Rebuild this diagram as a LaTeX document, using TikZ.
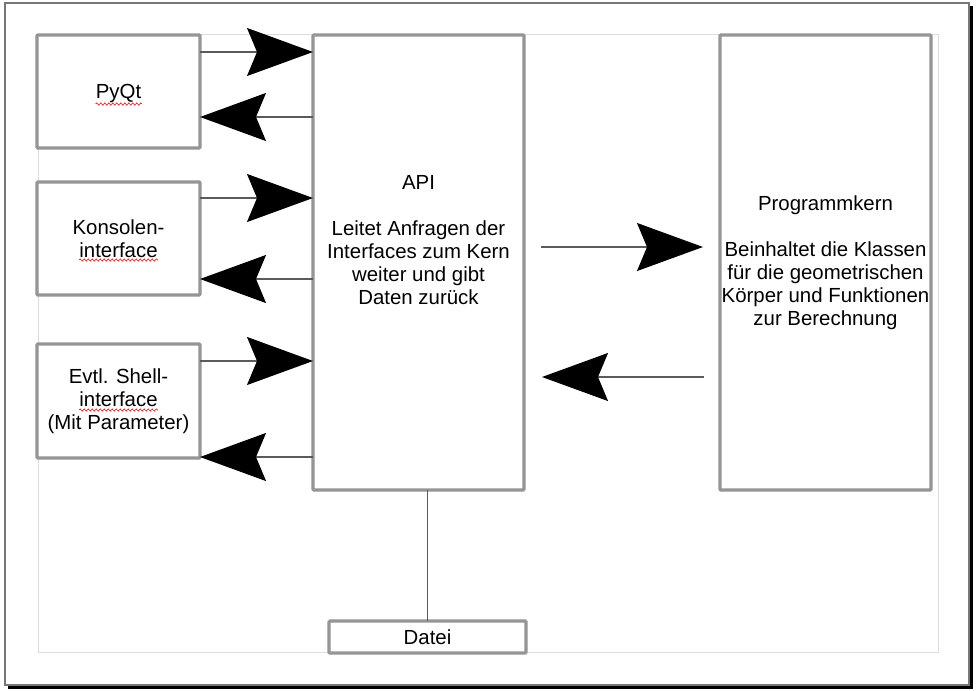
\documentclass[tikz,border=0pt]{standalone}
\usepackage{fontspec}
\setmainfont{Liberation Sans}
\usetikzlibrary{arrows.meta, calc, decorations.pathmorphing}

\definecolor{boxgray}{HTML}{959595}
\definecolor{linegray}{HTML}{5A5A5A}
\definecolor{pagegray}{HTML}{DCDCDC}
\definecolor{framegray}{HTML}{777777}

\begin{document}
\begin{tikzpicture}[x=1pt, y=-1pt, >={Stealth[length=66pt, width=48pt, inset=10pt, color=black]}]

  % --- CONFIGURAÇÕES GERAIS ---
  \tikzstyle{block}=[draw=boxgray, line width=3.2pt, rounded corners=1pt, fill=white, align=center, outer sep=0pt, inner sep=0pt, font=\fontsize{20.4}{23}\selectfont]
  \tikzstyle{flow}=[draw=linegray, line width=1.3pt]
  \tikzstyle{spell}=[draw=red, line width=0.6pt, decorate, decoration={snake, amplitude=1.1pt, segment length=4pt}]

  \useasboundingbox (0,0) rectangle (976,690);

  % --- RAHMEN (Seite mit Schatten) ---
  \fill[black] (8,6) rectangle (972.5,688.5);
  \draw[framegray, fill=white, line width=1.2pt] (5,3) rectangle (969,685);
  \draw[pagegray, line width=1pt] (38,35) rectangle (938,652);

  % --- INTERFACES (links) ---
  \node[block, minimum width=163, minimum height=113, text depth=0pt] (pyqt) at (118.5, 91.5) {PyQt};
  \node[block, minimum width=163, minimum height=113] (kons) at (118.5, 238.5) {Konsolen-\\interface};
  \node[block, minimum width=163, minimum height=114] (shell) at (118.5, 401) {Evtl. Shell-\\interface\\(Mit Parameter)};

  % Rechtschreibmarkierungen
  \draw[spell] ($(pyqt.center)+(-23,12.5)$) -- ($(pyqt.center)+(23.5,12.5)$);
  \draw[spell] ($(kons.center)+(-39.5,21.5)$) -- ($(kons.center)+(39.5,21.5)$);
  \draw[spell] ($(shell.center)+(-39.5,9)$) -- ($(shell.center)+(39.5,9)$);

  % --- API UND KERN ---
  \node[block, minimum width=211, minimum height=455] (api) at (418.5, 262.5) {};
  \node[align=center, inner sep=0pt, font=\fontsize{20.4}{23}\selectfont] (apitext) at ($(api.center)+(0,-22)$)
    {API\\[23pt]Leitet Anfragen der\\Interfaces zum Kern\\weiter und gibt\\Daten zurück};
  \node[block, minimum width=211, minimum height=455] (kern) at (825.5, 262.5)
    {Programmkern\\[23pt]Beinhaltet die Klassen\\für die geometrischen\\Körper und Funktionen\\zur Berechnung};

  % --- DATEI ---
  \node[block, minimum width=197, minimum height=32] (datei) at (427.5, 637) {Datei};

  % --- VERBINDUNGEN ---
  % Interfaces <-> API
  \draw[flow, ->] (pyqt.east |- 0,52) -- (api.west |- 0,52);
  \draw[flow, ->] (api.west |- 0,117) -- (pyqt.east |- 0,117);
  \draw[flow, ->] (kons.east |- 0,198) -- (api.west |- 0,198);
  \draw[flow, ->] (api.west |- 0,279) -- (kons.east |- 0,279);
  \draw[flow, ->] (shell.east |- 0,361) -- (api.west |- 0,361);
  \draw[flow, ->] (api.west |- 0,457) -- (shell.east |- 0,457);

  % API <-> Kern
  \draw[flow, ->, shorten <=17pt, shorten >=17pt] (api.east |- 0,247) -- (kern.west |- 0,247);
  \draw[flow, ->, shorten <=16pt, shorten >=18pt] (kern.west |- 0,377) -- (api.east |- 0,377);

  % API -- Datei
  \draw[flow] (datei.north |- api.south) -- (datei.north);

\end{tikzpicture}
\end{document}
